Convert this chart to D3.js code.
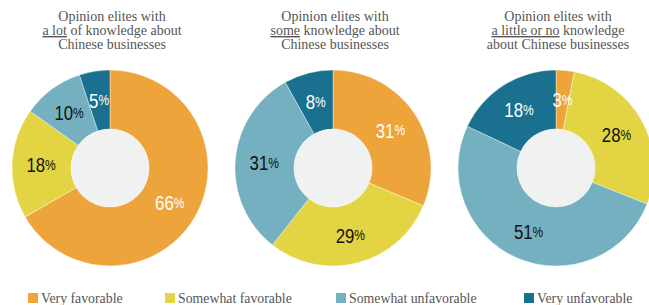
<!DOCTYPE html>
<html>
<head>
<meta charset="utf-8">
<script src="https://cdn.jsdelivr.net/npm/d3@7"></script>
<style>
  body { margin: 0; background: #fff; }
  svg { display: block; }
</style>
</head>
<body>
<div class="svg-container"></div>
<script>
const categories = ['Very favorable', 'Somewhat favorable', 'Somewhat unfavorable', 'Very unfavorable'];
const colors = ['#eda43b', '#e3d443', '#75b0c1', '#19718f'];
const labelColors = ['#fff', '#111', '#111', '#fff'];

const aLot = [66, 18, 10, 5];
const some = [31, 29, 31, 8];
const littleOrNo = [3, 28, 51, 18];

// title lines: [before underline, underlined, after]
const titles = [
    [['Opinion elites with', '', ''], ['', 'a lot', ' of knowledge about'], ['Chinese businesses', '', '']],
    [['Opinion elites with', '', ''], ['', 'some', ' knowledge about'], ['Chinese businesses', '', '']],
    [['Opinion elites with', '', ''], ['', 'a little or no', ' knowledge'], ['about Chinese businesses', '', '']]
];
const series = [aLot, some, littleOrNo];

const svgWidth = 649;
const svgHeight = 305;
const svg = d3.select('.svg-container').append('svg')
    .attr('width', svgWidth)
    .attr('height', svgHeight);

const centersX = [110, 333, 556];
const cy = 168;
const outerR = 98;
const innerR = 39;
const serif = '"Liberation Serif", "Noto Serif", serif';

const pie = d3.pie().sort(null).value(d => d);
const arc = d3.arc().innerRadius(innerR).outerRadius(outerR);
const labelArc = d3.arc().innerRadius(69).outerRadius(69);

series.forEach((values, k) => {
    const g = svg.append('g').attr('transform', `translate(${centersX[k]}, ${cy})`);
    const arcs = pie(values);

    g.selectAll('path').data(arcs).enter().append('path')
        .attr('d', arc)
        .attr('fill', (d, i) => colors[i])
        .attr('stroke', '#fff')
        .attr('stroke-width', 0.4);

    g.append('circle').attr('r', innerR).attr('fill', '#f0f2f1');

    // condensed look: squeeze a regular sans horizontally
    const labels = g.selectAll('text.lbl').data(arcs).enter().append('text')
        .attr('class', 'lbl')
        .attr('transform', d => `translate(${labelArc.centroid(d)}) scale(0.8,1)`)
        .attr('text-anchor', 'middle')
        .attr('dominant-baseline', 'central')
        .attr('font-family', '"Liberation Sans", Arial, sans-serif')
        .attr('fill', (d, i) => labelColors[i]);
    labels.append('tspan').attr('font-size', '21px').text(d => d.data);
    labels.append('tspan').attr('font-size', '15px').text('%');

    // title
    const t = svg.append('text')
        .attr('x', centersX[k] + 2)
        .attr('text-anchor', 'middle')
        .attr('font-family', serif)
        .attr('font-size', '14px')
        .attr('fill', '#555');
    titles[k].forEach((line, j) => {
        const first = t.append('tspan').attr('x', centersX[k] + 2).attr('y', 21 + j * 14);
        first.text(line[0]);
        if (line[1]) {
            first.attr('text-decoration', 'underline').text(line[1]);
            t.append('tspan').text(line[2]);
        }
    });
});

// legend
const legendX = [28, 165, 336, 524];
const legend = svg.append('g');
categories.forEach((c, i) => {
    legend.append('rect')
        .attr('x', legendX[i]).attr('y', 293)
        .attr('width', 10).attr('height', 10)
        .attr('fill', colors[i]);
    legend.append('text')
        .attr('x', legendX[i] + 13).attr('y', 303)
        .attr('font-family', serif)
        .attr('font-size', '13.8px')
        .attr('fill', '#555')
        .text(c);
});
</script>
</body>
</html>
